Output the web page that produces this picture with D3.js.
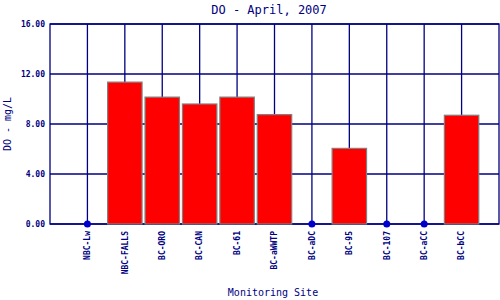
<!DOCTYPE html>
<html>
<head>
<meta charset="utf-8">
<script src="https://cdn.jsdelivr.net/npm/d3@7"></script>
<style>
  body { margin: 0; background: #fff; }
  text { font-family: "DejaVu Sans Mono", "Liberation Mono", monospace; fill: #000080; }
</style>
</head>
<body>
<svg id="chart"></svg>
<script>
// Site names along the x axis
const sites = ["NBC-Lw", "NBC-FALLS", "BC-ORO", "BC-CAN", "BC-61", "BC-aWWTP",
               "BC-aDC", "BC-95", "BC-107", "BC-aCC", "BC-bCC"];
// Dissolved oxygen (mg/L), 0 = no reading (drawn as a dot)
const doValues = [0, 11.35, 10.15, 9.6, 10.15, 8.75, 0, 6.05, 0, 0, 8.7];
const yTicks = [0, 4, 8, 12, 16];

const width = 500;
const height = 300;
const margin = {top: 24, right: 1, bottom: 76, left: 50};

const svg = d3.select("#chart")
  .attr("width", width)
  .attr("height", height);

// x runs 0..12 with the sites at 1..11
const x = d3.scaleLinear()
  .domain([0, sites.length + 1])
  .range([margin.left, width - margin.right]);

const y = d3.scaleLinear()
  .domain([0, 16])
  .range([height - margin.bottom, margin.top]);

const step = x(1) - x(0);
const barW = step * 0.92;
const navy = "#000080";

// horizontal grid
svg.append("g")
  .selectAll("line")
  .data(yTicks)
  .enter()
  .append("line")
  .attr("x1", x(0))
  .attr("x2", x(sites.length + 1))
  .attr("y1", d => y(d))
  .attr("y2", d => y(d))
  .attr("stroke", navy)
  .attr("stroke-width", 1.3);

// vertical grid at each site
svg.append("g")
  .selectAll("line")
  .data(sites)
  .enter()
  .append("line")
  .attr("x1", (d, i) => x(i + 1))
  .attr("x2", (d, i) => x(i + 1))
  .attr("y1", y(16))
  .attr("y2", y(0))
  .attr("stroke", navy)
  .attr("stroke-width", 1.3);

// plot frame
svg.append("rect")
  .attr("x", x(0))
  .attr("y", y(16))
  .attr("width", x(sites.length + 1) - x(0))
  .attr("height", y(0) - y(16))
  .attr("fill", "none")
  .attr("stroke", navy)
  .attr("stroke-width", 1.3);

// bars
svg.append("g")
  .selectAll("rect")
  .data(doValues.map((v, i) => ({site: sites[i], value: v, i: i})).filter(d => d.value > 0))
  .enter()
  .append("rect")
  .attr("x", d => x(d.i + 1) - barW / 2)
  .attr("y", d => y(d.value))
  .attr("width", barW)
  .attr("height", d => y(0) - y(d.value))
  .attr("fill", "#ff0000")
  .attr("stroke", "#808080")
  .attr("stroke-width", 1.2);

// dots for zero readings
svg.append("g")
  .selectAll("circle")
  .data(doValues.map((v, i) => ({value: v, i: i})).filter(d => d.value === 0))
  .enter()
  .append("circle")
  .attr("cx", d => x(d.i + 1))
  .attr("cy", d => y(d.value))
  .attr("r", 3.5)
  .attr("fill", "#0000cc");

// y tick labels
svg.append("g")
  .selectAll("text")
  .data(yTicks)
  .enter()
  .append("text")
  .attr("x", margin.left - 5)
  .attr("y", d => y(d))
  .attr("dy", "0.35em")
  .attr("text-anchor", "end")
  .style("font-size", "8px")
  .style("font-weight", "bold")
  .text(d => d.toFixed(2));

// x tick labels, rotated
svg.append("g")
  .selectAll("text")
  .data(sites)
  .enter()
  .append("text")
  .attr("transform", (d, i) => `translate(${x(i + 1)},${y(0) + 7}) rotate(-90)`)
  .attr("dy", "0.35em")
  .attr("text-anchor", "end")
  .style("font-size", "8px")
  .style("font-weight", "bold")
  .text(d => d);

// title
svg.append("text")
  .attr("x", 269)
  .attr("y", 14)
  .attr("text-anchor", "middle")
  .style("font-size", "12px")
  .text("DO - April, 2007");

// axis titles
svg.append("text")
  .attr("x", 273)
  .attr("y", 296)
  .attr("text-anchor", "middle")
  .style("font-size", "10px")
  .text("Monitoring Site");

svg.append("text")
  .attr("transform", `translate(11,${(y(0) + y(16)) / 2}) rotate(-90)`)
  .attr("text-anchor", "middle")
  .style("font-size", "10px")
  .text("DO - mg/L");
</script>
</body>
</html>
